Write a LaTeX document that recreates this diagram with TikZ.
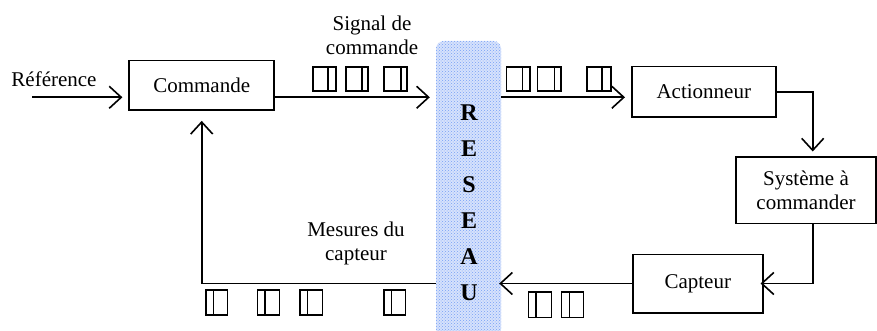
\documentclass[tikz,border=0pt]{standalone}
\usepackage{fontspec}
\setmainfont{Liberation Serif}
\usetikzlibrary{arrows.meta,patterns}
\definecolor{bandblue}{RGB}{214,226,252}
\definecolor{banddot}{RGB}{120,160,245}
\begin{document}
\begin{tikzpicture}[x=1pt,y=-1pt,
  txt/.style={inner sep=0pt, align=center, font=\fontsize{21}{24}\selectfont},
  blk/.style={txt, draw, line width=1.6pt},
  conn/.style={line width=1.6pt, -{Straight Barb[length=12pt,width=22pt,line width=1.6pt]}},
  pkt/.style={line width=1.5pt}]
\useasboundingbox (0,0) rectangle (877,331);
% network band
\node[fill=bandblue, rounded corners=8pt, minimum width=65pt, minimum height=296pt, inner sep=0pt] (reseau) at (468.5,189) {};
\fill[pattern=crosshatch dots, pattern color=banddot, rounded corners=8pt] (reseau.north west) rectangle (reseau.south east);
\node[inner sep=0pt, align=center, font=\bfseries\fontsize{24}{36}\selectfont] (letters) at (469,203) {R\\E\\S\\E\\A\\U};
% blocks
\node[blk, minimum width=145pt, minimum height=49.5pt] (commande) at (201.7,85.3) {Commande};
\node[blk, minimum width=144pt, minimum height=50.6pt] (actionneur) at (703.8,92) {Actionneur};
\node[blk, minimum width=140pt, minimum height=66pt] (systeme) at (806,190.3) {Système à\\commander};
\node[blk, minimum width=130pt, minimum height=58.4pt] (capteur) at (697.8,283.5) {Capteur};
% labels
\node[txt] (ref) at (54,79) {Référence};
\node[txt] (sig) at (372,35) {Signal de\\commande};
\node[txt] (mes) at (356,243) {Mesures du\\capteur};
% helper coordinates
\coordinate (refin) at (32,97.3);
\coordinate (vx) at (812.7,0);
% connectors
\draw[conn, shorten >=6pt] (refin) -- (refin -| commande.west);
\draw[conn, shorten >=6pt] (commande.east |- refin) -- (reseau.west |- refin);
\draw[conn, shorten >=6pt] (reseau.east |- refin) -- (actionneur.west |- refin);
\draw[conn, shorten >=5pt] (actionneur.east) -| (vx |- systeme.north);
\draw[conn, shorten >=-3pt] (vx |- systeme.south) |- (capteur.east);
\draw[conn, shorten >=-2pt] (capteur.west) -- (reseau.east |- capteur.west);
\draw[conn, shorten >=10pt] (reseau.west |- capteur.west) -| (commande.south);
% packets
\foreach \a/\b/\s in {313/336/328, 346/368/362, 384/407/401, 506.7/530/522.3, 537.7/561/554.3, 587/611/602}
  {\draw[pkt] (\a,67) rectangle (\b,91) (\s,67) -- (\s,91);}
\foreach \a/\b/\s in {206/227.7/213.3, 257.3/279.3/265, 300/322.3/307.3, 384/405.7/391.7}
  {\draw[pkt] (\a,290) rectangle (\b,315) (\s,290) -- (\s,315);}
\foreach \a/\b/\s in {528.3/551.7/536, 561.7/583.3/569.3}
  {\draw[pkt] (\a,292) rectangle (\b,317.5) (\s,292) -- (\s,317.5);}
\end{tikzpicture}
\end{document}
